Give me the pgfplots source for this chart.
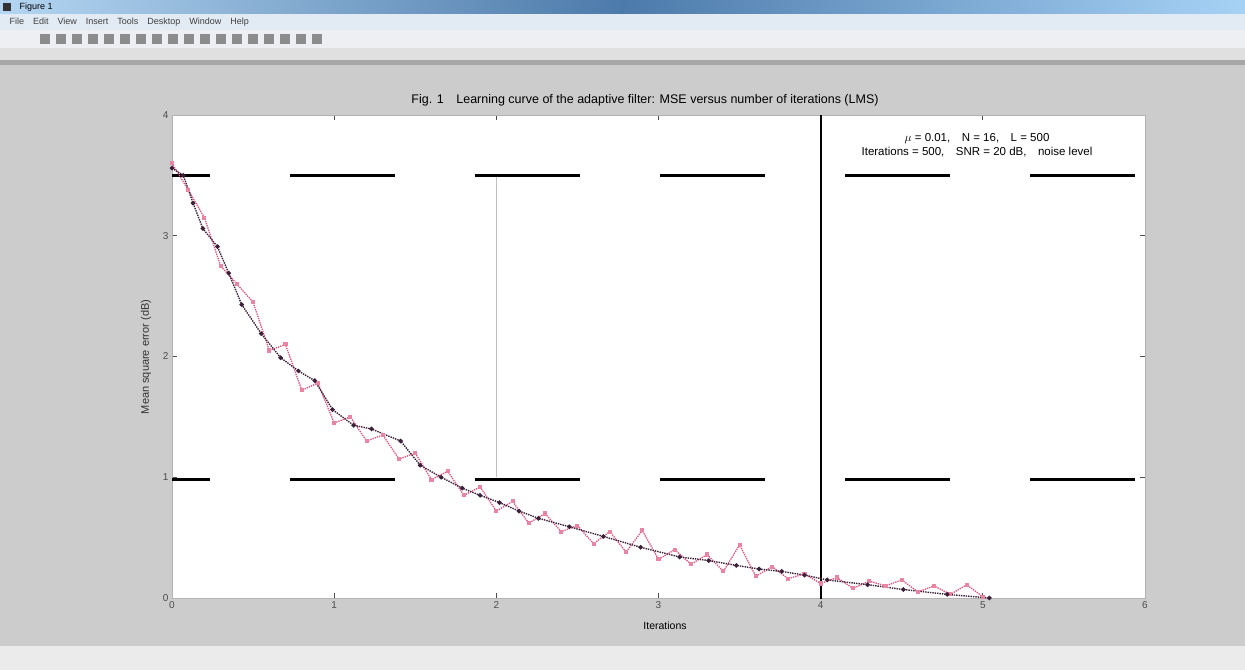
\documentclass[border=0pt]{standalone}
\usepackage{pgfplots}
\pgfplotsset{compat=1.18}
\usepackage{fontspec}
\setmainfont{Liberation Sans}

\definecolor{figgray}{HTML}{CCCCCC}
\definecolor{tbL}{HTML}{B4D6F2}
\definecolor{tbM}{HTML}{4C7AAA}
\definecolor{tbR}{HTML}{A6D2F6}
\definecolor{menubg}{HTML}{E2EAF4}
\definecolor{toolbg}{HTML}{EEEFF2}
\definecolor{darkline}{HTML}{3A2038}
\definecolor{noisered}{HTML}{E0507A}

\pgfplotstableread{
x y
0.00 3.56
0.07 3.50
0.13 3.27
0.19 3.06
0.28 2.91
0.35 2.69
0.43 2.43
0.55 2.19
0.67 1.99
0.78 1.88
0.88 1.80
0.99 1.56
1.12 1.43
1.23 1.40
1.41 1.30
1.53 1.10
1.66 1.00
1.79 0.91
1.90 0.85
2.02 0.79
2.14 0.72
2.26 0.66
2.45 0.59
2.66 0.51
2.89 0.42
3.13 0.34
3.31 0.31
3.48 0.27
3.62 0.24
3.76 0.22
3.90 0.19
4.04 0.15
4.29 0.11
4.51 0.07
4.78 0.03
5.04 0.00
}\smoothcurve

\pgfplotstableread{
x y
0.00 3.60
0.10 3.38
0.20 3.15
0.30 2.75
0.40 2.60
0.50 2.45
0.60 2.05
0.70 2.10
0.80 1.72
0.90 1.78
1.00 1.45
1.10 1.50
1.20 1.30
1.30 1.35
1.40 1.15
1.50 1.20
1.60 0.98
1.70 1.05
1.80 0.85
1.90 0.92
2.00 0.72
2.10 0.80
2.20 0.62
2.30 0.70
2.40 0.55
2.50 0.60
2.60 0.45
2.70 0.55
2.80 0.38
2.90 0.56
3.00 0.32
3.10 0.40
3.20 0.28
3.30 0.36
3.40 0.22
3.50 0.44
3.60 0.18
3.70 0.26
3.80 0.16
3.90 0.20
4.00 0.12
4.10 0.17
4.20 0.08
4.30 0.14
4.40 0.10
4.50 0.15
4.60 0.05
4.70 0.10
4.80 0.03
4.90 0.11
5.00 0.01
}\noisycurve

\begin{document}
\begin{tikzpicture}[x=1pt,y=1pt]
% figure window
\fill[figgray] (0,0) rectangle (1245,670);
\useasboundingbox (0,0) rectangle (1245,670);
% title bar
\shade[left color=tbL, right color=tbR, middle color=tbM] (0,656) rectangle (1245,670);
\node[anchor=west, font=\fontsize{9}{10}\selectfont, text=black] at (16,663) {Figure 1};
\fill[black!80] (3,659) rectangle (11,667);
% menu bar
\fill[menubg] (0,640) rectangle (1245,656);
\node[anchor=west, font=\fontsize{9}{10}\selectfont, text=black!75] at (6,648)
  {File\quad Edit\quad View\quad Insert\quad Tools\quad Desktop\quad Window\quad Help};
% tool bar
\fill[toolbg] (0,622) rectangle (1245,640);
\foreach \i in {0,...,17} {
  \fill[black!45] (40+\i*16,626) rectangle (50+\i*16,636);
}
\fill[black!12] (0,610) rectangle (1245,622);
\fill[black!35] (0,605) rectangle (1245,610);
% status strip
\fill[black!8] (0,0) rectangle (1245,24);

\begin{axis}[
  at={(172pt,72pt)}, anchor=south west,
  scale only axis, width=973pt, height=483pt,
  xmin=0, xmax=6, ymin=0, ymax=4,
  xtick={0,...,6}, ytick={0,...,4},
  axis background/.style={fill=white},
  axis line style={draw=black!30, line width=0.6pt},
  tick style={draw=black!70, line width=0.8pt},
  major tick length=5pt,
  tick align=inside,
  ticklabel style={text=black!70, font=\fontsize{10}{12}\selectfont},
  /pgf/number format/assume math mode=true,
  clip=true,
]
% reference lines
\addplot[black!25, line width=1.2pt, forget plot] coordinates {(2,1) (2,3.5)};
\addplot[black, line width=1.8pt, forget plot] coordinates {(4,-0.1) (4,4)};
\addplot[black, line width=2.4pt, dash pattern=on 105pt off 80pt, dash phase=67pt, forget plot]
  coordinates {(0,3.5) (6,3.5)};
\addplot[black, line width=2.4pt, dash pattern=on 105pt off 80pt, dash phase=67pt, forget plot]
  coordinates {(0,0.98) (6,0.98)};
% measured curves
\addplot[noisered, line width=1.3pt, densely dotted, mark=square*, mark size=1.4pt,
  mark options={solid, fill=noisered!70, draw=noisered!70}] table {\noisycurve};
\addplot[darkline, line width=1.4pt, densely dotted, mark=*, mark size=1.5pt,
  mark options={solid}] table {\smoothcurve};
\end{axis}

% annotations
\node[font=\fontsize{12.5}{14}\selectfont, text=black] at (645,570)
  {Fig. 1\quad Learning curve of the adaptive filter: MSE versus number of iterations (LMS)};
\node[fill=white, inner sep=2pt, align=center, font=\fontsize{11.5}{14}\selectfont, text=black]
  at (977,525) {$\mu$ = 0.01,\quad N = 16,\quad L = 500\\Iterations = 500,\quad SNR = 20 dB,\quad noise level};
\node[font=\fontsize{10.5}{12}\selectfont, text=black] at (665,44) {Iterations};
\node[rotate=90, font=\fontsize{11}{13}\selectfont, text=black!80] at (146,313) {Mean square error (dB)};
\end{tikzpicture}
\end{document}
